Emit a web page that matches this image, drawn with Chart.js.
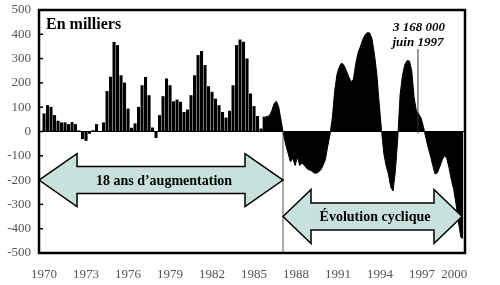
<!DOCTYPE html>
<html>
<head>
<meta charset="utf-8">
<script src="https://cdn.jsdelivr.net/npm/chart.js@4"></script>
<style>
  html, body { margin: 0; padding: 0; background: #fff; }
  canvas { display: block; }
</style>
</head>
<body>
<canvas id="chart" width="500" height="285"></canvas>
<script>
// Quarterly values 1970 -> mid 1985 (thousands)
const quarterStart = 1970;
const quarterValues = [
  73, 107, 100, 66, 43, 36, 36, 29, 37, 29,
  3, -30, -37, -8, 4, 29, 0, 36, 165, 224,
  367, 354, 230, 200, 93, 14, 32, 100, 189, 223,
  148, 15, -25, 66, 144, 217, 189, 123, 130, 121,
  79, 89, 148, 230, 313, 330, 272, 185, 162, 134,
  107, 79, 56, 84, 189, 354, 377, 368, 299, 155,
  103, 62, 11
];

// Two-month values from mid 1985 to 2000 (thousands)
const denseStart = 1985.6;
const denseValues = [
  59, 59, 62, 65, 85, 115, 125, 100, 45, -10,
  -55, -90, -125, -110, -140, -105, -140, -130, -140, -152,
  -158, -162, -170, -172, -167, -158, -140, -115, -60, -10,
  60, 170, 237, 268, 282, 272, 250, 225, 205, 215,
  280, 325, 350, 378, 398, 407, 405, 380, 318, 240,
  120, 10, -90, -140, -175, -229, -245, -160, -30, 150,
  230, 275, 292, 290, 250, 140, 85, 72, 55, 20,
  -25, -65, -100, -140, -175, -170, -145, -118, -100, -110,
  -150, -200, -240, -300, -370, -435, -440
];

const tickYears = [1970, 1973, 1976, 1979, 1982, 1985, 1988, 1991, 1994, 1997, 2000];
const yTicks = [-500, -400, -300, -200, -100, 0, 100, 200, 300, 400, 500];

const breakYear = 1987.07;   // start of "évolution cyclique"
const peakYear = 1996.71;    // juin 1997 marker
const serif = "'Liberation Serif', 'DejaVu Serif', serif";

const quarterData = quarterValues.map((v, i) => ({ x: quarterStart + i * 0.25, y: v }));
const denseData = denseValues.map((v, i) => ({ x: denseStart + i / 6, y: v }));

function drawArrow(ctx, x1, x2, yc, headLen, headH, bodyH) {
  ctx.beginPath();
  ctx.moveTo(x1, yc);
  ctx.lineTo(x1 + headLen, yc - headH / 2);
  ctx.lineTo(x1 + headLen, yc - bodyH / 2);
  ctx.lineTo(x2 - headLen, yc - bodyH / 2);
  ctx.lineTo(x2 - headLen, yc - headH / 2);
  ctx.lineTo(x2, yc);
  ctx.lineTo(x2 - headLen, yc + headH / 2);
  ctx.lineTo(x2 - headLen, yc + bodyH / 2);
  ctx.lineTo(x1 + headLen, yc + bodyH / 2);
  ctx.lineTo(x1 + headLen, yc + headH / 2);
  ctx.closePath();
  ctx.fillStyle = "#c8e1dd";
  ctx.fill();
  ctx.lineWidth = 1.5;
  ctx.strokeStyle = "#000";
  ctx.stroke();
}

const decorations = {
  id: "decorations",
  afterDatasetsDraw(chart) {
    const { ctx, chartArea: a, scales: { x, y } } = chart;
    ctx.save();

    // inner ticks on the left axis
    ctx.strokeStyle = "#000";
    ctx.lineWidth = 1.5;
    yTicks.forEach((t) => {
      if (Math.abs(t) === 500) return;
      const py = y.getPixelForValue(t);
      ctx.beginPath();
      ctx.moveTo(a.left, py);
      ctx.lineTo(a.left + 4, py);
      ctx.stroke();
    });

    // separator line
    const bx = x.getPixelForValue(breakYear);
    ctx.strokeStyle = "#555";
    ctx.lineWidth = 1;
    ctx.beginPath();
    ctx.moveTo(bx, y.getPixelForValue(0));
    ctx.lineTo(bx, a.bottom);
    ctx.stroke();

    // arrows
    const y1 = y.getPixelForValue(-200);
    drawArrow(ctx, a.left, bx, y1, 38, 53, 27);
    const y2 = y.getPixelForValue(-350);
    drawArrow(ctx, bx, a.right - 3, y2, 28, 54, 27);

    ctx.fillStyle = "#000";
    ctx.font = "bold 14px " + serif;
    ctx.textAlign = "center";
    ctx.textBaseline = "middle";
    ctx.fillText("18 ans d\u2019augmentation", (a.left + bx) / 2 + 3, y1 + 1);
    ctx.fillText("\u00c9volution cyclique", (bx + a.right) / 2 + 1, y2 + 1);

    // peak marker
    const px = x.getPixelForValue(peakYear);
    ctx.strokeStyle = "#333";
    ctx.lineWidth = 1;
    ctx.beginPath();
    ctx.moveTo(px, 49);
    ctx.lineTo(px, y.getPixelForValue(0) + 2);
    ctx.stroke();
    ctx.font = "bold italic 13px " + serif;
    ctx.textBaseline = "alphabetic";
    ctx.fillText("3 168 000", px + 1, 31);
    ctx.fillText("juin 1997", px, 46);

    // title
    ctx.textAlign = "left";
    ctx.font = "bold 16px " + serif;
    ctx.fillText("En milliers", 46, 29);

    // frame
    ctx.strokeStyle = "#000";
    ctx.lineWidth = 2.5;
    ctx.strokeRect(a.left, a.top, a.right - a.left, a.bottom - a.top);
    ctx.restore();
  }
};

new Chart(document.getElementById("chart"), {
  type: "bar",
  data: {
    datasets: [
      {
        type: "bar",
        data: quarterData,
        backgroundColor: "#000",
        barThickness: 2.4,
        borderWidth: 0
      },
      {
        type: "line",
        data: denseData,
        backgroundColor: "#000",
        borderColor: "#000",
        borderWidth: 1,
        pointRadius: 0,
        tension: 0,
        fill: "origin"
      }
    ]
  },
  options: {
    responsive: false,
    animation: false,
    events: [],
    layout: { padding: { top: 10, right: 35, left: 0, bottom: 0 } },
    plugins: { legend: { display: false }, tooltip: { enabled: false } },
    scales: {
      x: {
        type: "linear",
        offset: false,
        min: 1969.64,
        max: 2000.07,
        grid: { display: false },
        border: { display: false },
        afterBuildTicks: (scale) => {
          // the last label sits a little left of the frame, as in the original
          scale.ticks = tickYears.map((t, i) =>
            ({ value: i === tickYears.length - 1 ? t - 0.7 : t, label: String(t) }));
        },
        afterFit: (scale) => {
          scale.height = 32;
          scale.paddingLeft = 0;
          scale.paddingRight = 0;
        },
        ticks: {
          autoSkip: false,
          maxRotation: 0,
          padding: 6,
          color: "#555",
          font: { family: serif, size: 13 },
          callback: function (value, index) { return String(tickYears[index]); }
        }
      },
      y: {
        min: -500,
        max: 500,
        afterBuildTicks: (scale) => { scale.ticks = yTicks.map((v) => ({ value: v })); },
        afterFit: (scale) => {
          scale.width = 39;
          scale.paddingTop = 0;
          scale.paddingBottom = 0;
        },
        grid: {
          drawTicks: false,
          color: (c) => (c.tick && c.tick.value === 0 ? "#000" : "rgba(0,0,0,0)"),
          lineWidth: 1
        },
        border: { display: false },
        ticks: {
          padding: 8,
          color: "#555",
          font: { family: serif, size: 13 }
        }
      }
    }
  },
  plugins: [decorations]
});
</script>
</body>
</html>
